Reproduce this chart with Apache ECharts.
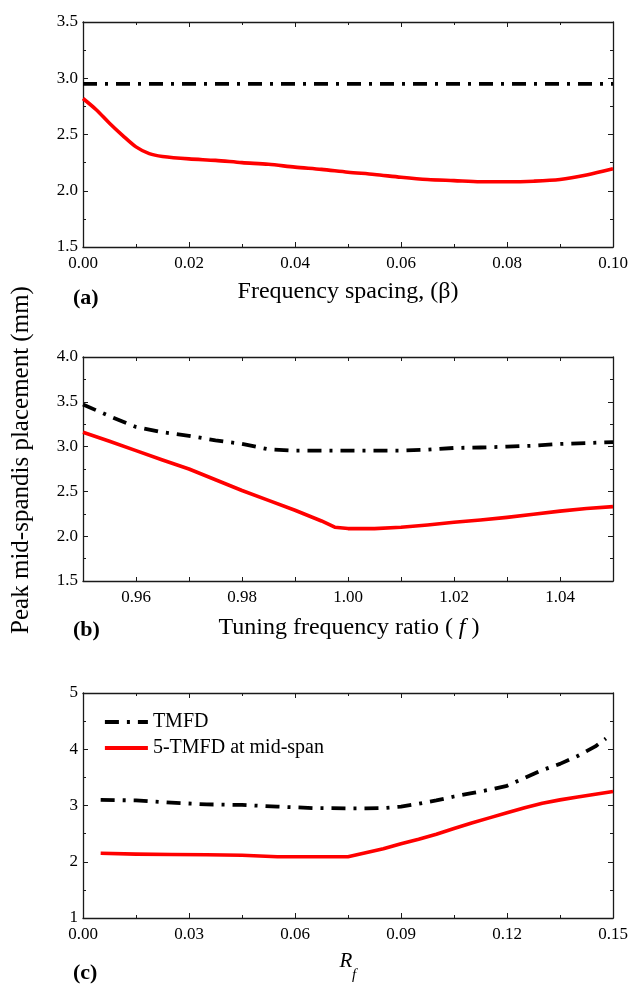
<!DOCTYPE html>
<html>
<head>
<meta charset="utf-8">
<script src="https://cdn.jsdelivr.net/npm/echarts@6/dist/echarts.min.js"></script>
<style>html,body{margin:0;padding:0;background:#fff}#c{width:628px;height:985px}</style>
</head>
<body>
<div id="c"></div>
<script>
// ---------- DATA ----------
// Panel (a): Frequency spacing (beta)
var aX_tmfd = [0, 0.025, 0.05, 0.075, 0.1];
var aY_tmfd = [2.95, 2.95, 2.95, 2.95, 2.95];
var aX_multi = [0, 0.0025, 0.005, 0.0075, 0.01, 0.0125, 0.015, 0.02, 0.025, 0.03, 0.035, 0.04, 0.045, 0.05, 0.055, 0.06, 0.065, 0.07, 0.075, 0.08, 0.085, 0.09, 0.095, 0.1];
var aY_multi = [2.82, 2.72, 2.60, 2.49, 2.39, 2.33, 2.305, 2.283, 2.27, 2.25, 2.235, 2.21, 2.19, 2.165, 2.145, 2.12, 2.10, 2.09, 2.08, 2.08, 2.085, 2.10, 2.14, 2.195];

// Panel (b): Tuning frequency ratio (f)
var bX = [0.95, 0.955, 0.96, 0.965, 0.97, 0.975, 0.98, 0.985, 0.99, 0.995, 0.9975, 1.0, 1.005, 1.01, 1.015, 1.02, 1.025, 1.03, 1.035, 1.04, 1.045, 1.05];
var bY_tmfd = [3.47, 3.34, 3.22, 3.16, 3.12, 3.07, 3.03, 2.97, 2.955, 2.955, 2.955, 2.955, 2.955, 2.955, 2.965, 2.985, 2.99, 3.0, 3.01, 3.03, 3.04, 3.05];
var bY_multi = [3.16, 3.06, 2.955, 2.85, 2.75, 2.63, 2.51, 2.40, 2.29, 2.17, 2.10, 2.085, 2.085, 2.10, 2.125, 2.155, 2.18, 2.21, 2.245, 2.28, 2.31, 2.33];

// Panel (c): Rf
var cX_tmfd = [0.005, 0.015, 0.025, 0.035, 0.045, 0.055, 0.065, 0.075, 0.08, 0.085, 0.09, 0.095, 0.1, 0.105, 0.11, 0.115, 0.12, 0.125, 0.13, 0.135, 0.14, 0.145, 0.148];
var cY_tmfd = [3.10, 3.09, 3.05, 3.02, 3.01, 2.98, 2.955, 2.95, 2.95, 2.955, 2.98, 3.03, 3.09, 3.16, 3.22, 3.28, 3.35, 3.49, 3.63, 3.74, 3.88, 4.05, 4.19];
var cX_multi = [0.005, 0.015, 0.025, 0.035, 0.045, 0.055, 0.065, 0.075, 0.08, 0.085, 0.09, 0.095, 0.1, 0.105, 0.11, 0.115, 0.12, 0.125, 0.13, 0.135, 0.14, 0.145, 0.15];
var cY_multi = [2.15, 2.135, 2.13, 2.125, 2.115, 2.09, 2.09, 2.09, 2.16, 2.23, 2.32, 2.40, 2.49, 2.59, 2.69, 2.78, 2.87, 2.96, 3.04, 3.10, 3.15, 3.20, 3.25];

var seriesNames = ['TMFD', '5-TMFD at mid-span'];
var panelLetters = ['(a)', '(b)', '(c)'];
var xTitleA = 'Frequency spacing, (\u03B2)';
var yTitle = 'Peak mid-spandis placement (mm)';

// Axis ranges / ticks: [min, max, interval, decimals]
var xRanges = [[0, 0.1, 0.02, 2], [0.95, 1.05, 0.01, 2], [0, 0.15, 0.03, 2]];
var yRanges = [[1.5, 3.5, 0.5, 1], [1.5, 4.0, 0.5, 1], [1, 5, 1, 0]];

// ---------- CHART ----------
var FONT = 'Liberation Serif';
var grids = [
  {left: 83, top: 22, width: 530, height: 225, outerBoundsMode: 'none', containLabel: false},
  {left: 83, top: 357, width: 530, height: 224, outerBoundsMode: 'none', containLabel: false},
  {left: 83, top: 693, width: 530, height: 225, outerBoundsMode: 'none', containLabel: false}
];
function zip(xs, ys) { return xs.map(function (x, i) { return [x, ys[i]]; }); }

var lineCol = '#1a1a1a';
var xAxes = [], yAxes = [];
for (var g = 0; g < 3; g++) {
  (function (g) {
    var xr = xRanges[g], yr = yRanges[g];
    var xFmt = function (v) {
      if (g === 1) { var k = Math.round(v * 100); return (k % 2 === 0) ? v.toFixed(2) : ''; }
      return v.toFixed(xr[3]);
    };
    var yFmt = function (v) { return v.toFixed(yr[3]); };
    var minorX = g !== 1;
    ['bottom', 'top'].forEach(function (pos) {
      xAxes.push({
        type: 'value', gridIndex: g, position: pos, min: xr[0], max: xr[1], interval: xr[2],
        axisLine: {show: true, onZero: false, lineStyle: {color: lineCol, width: 1.3}},
        axisTick: {show: true, inside: true, length: minorX ? 5 : 4, lineStyle: {color: lineCol, width: 1}},
        minorTick: {show: minorX, splitNumber: 2, length: 3, lineStyle: {color: lineCol, width: 1}},
        splitLine: {show: false}, minorSplitLine: {show: false},
        axisLabel: {show: pos === 'bottom', formatter: xFmt, margin: 8, color: '#000', fontFamily: FONT, fontSize: 17, hideOverlap: false, showMinLabel: true, showMaxLabel: true}
      });
    });
    ['left', 'right'].forEach(function (pos) {
      yAxes.push({
        type: 'value', gridIndex: g, position: pos, min: yr[0], max: yr[1], interval: yr[2],
        axisLine: {show: true, onZero: false, lineStyle: {color: lineCol, width: 1.3}},
        axisTick: {show: true, inside: true, length: 5, lineStyle: {color: lineCol, width: 1}},
        minorTick: {show: true, splitNumber: 2, length: 3, lineStyle: {color: lineCol, width: 1}},
        splitLine: {show: false}, minorSplitLine: {show: false},
        axisLabel: {show: pos === 'left', formatter: yFmt, margin: 5, color: '#000', fontFamily: FONT, fontSize: 17}
      });
    });
  })(g);
}

var dashDot = [14, 8, 3, 8];
function mkSeries(name, data, g, isTmfd, smooth) {
  return {
    type: 'line', name: name, data: data, xAxisIndex: g * 2, yAxisIndex: g * 2,
    showSymbol: false, symbol: 'none', smooth: smooth, animation: false, silent: true,
    lineStyle: isTmfd ? {color: '#000', width: 3.8, type: dashDot, cap: 'butt', join: 'round'} : {color: '#ff0000', width: 3.6, join: 'round'},
    itemStyle: {color: isTmfd ? '#000' : '#ff0000'},
    z: isTmfd ? 3 : 2
  };
}
var series = [
  mkSeries(seriesNames[0], zip(aX_tmfd, aY_tmfd), 0, true, false),
  mkSeries(seriesNames[1], zip(aX_multi, aY_multi), 0, false, 0.3),
  mkSeries(seriesNames[0], zip(bX, bY_tmfd), 1, true, false),
  mkSeries(seriesNames[1], zip(bX, bY_multi), 1, false, false),
  mkSeries(seriesNames[0], zip(cX_tmfd, cY_tmfd), 2, true, false),
  mkSeries(seriesNames[1], zip(cX_multi, cY_multi), 2, false, false)
];

var titleStyle = {fontFamily: FONT, fontSize: 24, fill: '#000', align: 'center', verticalAlign: 'middle'};
function txt(x, y, style, extra) {
  var o = {type: 'text', x: x, y: y, style: Object.assign({}, titleStyle, style), silent: true};
  return Object.assign(o, extra || {});
}
var graphic = [
  txt(348, 292, {text: xTitleA}),
  txt(349, 628, {
    text: '{n|Tuning frequency ratio ( }{i|f}{n| )}',
    rich: {n: {fontFamily: FONT, fontSize: 24, fill: '#000'}, i: {fontFamily: FONT, fontSize: 24, fontStyle: 'italic', fill: '#000'}}
  }),
  txt(346, 961, {text: 'R', fontStyle: 'italic', fontSize: 21}),
  txt(354, 975, {text: 'f', fontStyle: 'italic', fontSize: 15}),
  txt(21, 460, {text: yTitle, fontSize: 25}, {rotation: Math.PI / 2}),
  txt(73, 298, {text: panelLetters[0], fontWeight: 'bold', fontSize: 22, align: 'left'}),
  txt(73, 630, {text: panelLetters[1], fontWeight: 'bold', fontSize: 22, align: 'left'}),
  txt(73, 973, {text: panelLetters[2], fontWeight: 'bold', fontSize: 22, align: 'left'})
];

var chart = echarts.init(document.getElementById('c'), null, {renderer: 'canvas'});
chart.setOption({
  animation: false,
  backgroundColor: '#fff',
  grid: grids,
  xAxis: xAxes,
  yAxis: yAxes,
  legend: {
    orient: 'vertical', left: 103, top: 712, itemWidth: 43, itemHeight: 14, itemGap: 6,
    padding: 0, selectedMode: false,
    itemStyle: {opacity: 0},
    lineStyle: {width: 3.8, cap: 'butt'},
    textStyle: {fontFamily: FONT, fontSize: 20, color: '#000', lineHeight: 20},
    data: seriesNames
  },
  series: series,
  graphic: graphic
});
</script>
</body>
</html>
